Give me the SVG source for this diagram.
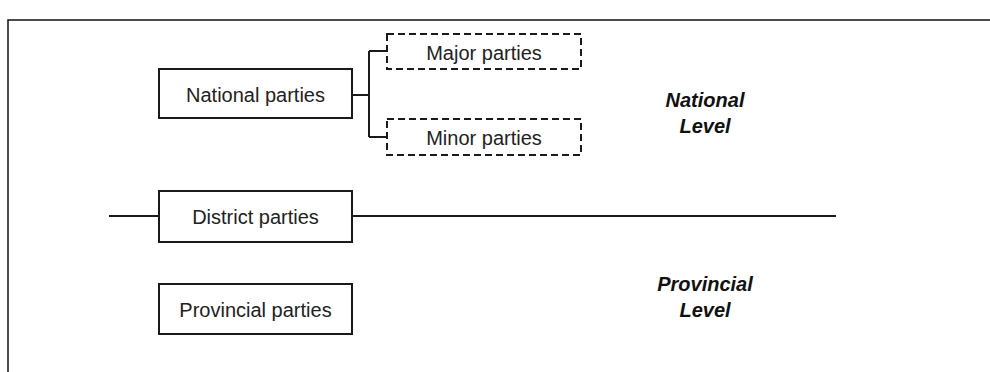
<svg xmlns="http://www.w3.org/2000/svg" width="990" height="372" viewBox="0 0 990 372">
  <style>
    .box { fill: #fff; stroke: #1a1a1a; stroke-width: 2; }
    .dash { fill: #fff; stroke: #1a1a1a; stroke-width: 2; stroke-dasharray: 7 4; }
    .wire { fill: none; stroke: #1a1a1a; stroke-width: 2; }
    .frame { fill: none; stroke: #111; stroke-width: 1.5; }
    .lbl { font-family: "Liberation Sans", Arial, sans-serif; font-size: 20px; fill: #222; text-anchor: middle; }
    .lvl { font-family: "Liberation Sans", Arial, sans-serif; font-size: 20px; font-weight: bold; font-style: italic; fill: #111; text-anchor: middle; }
  </style>

  <rect width="990" height="372" fill="#fff"/>
  <!-- page frame -->
  <path class="frame" d="M8,372 V20 H990"/>

  <!-- connectors -->
  <g id="connectors">
    <path class="wire" d="M352,95 H369 M369,51 V137 M369,51 H387 M369,137 H387"/>
    <path class="wire" d="M109,216 H159 M352,216 H836"/>
  </g>

  <g id="national">
    <rect class="box" x="159" y="69" width="193" height="49"/>
    <text class="lbl" x="255.5" y="102">National parties</text>
  </g>

  <g id="major">
    <rect class="dash" x="387" y="34" width="194" height="35"/>
    <text class="lbl" x="484" y="60">Major parties</text>
  </g>

  <g id="minor">
    <rect class="dash" x="387" y="119" width="194" height="36"/>
    <text class="lbl" x="484" y="145">Minor parties</text>
  </g>

  <g id="district">
    <rect class="box" x="159" y="191" width="193" height="51"/>
    <text class="lbl" x="255.5" y="224">District parties</text>
  </g>

  <g id="provincial">
    <rect class="box" x="159" y="284" width="193" height="50"/>
    <text class="lbl" x="255.5" y="317">Provincial parties</text>
  </g>

  <g id="national-level">
    <text class="lvl" x="705" y="107">National</text>
    <text class="lvl" x="705" y="133">Level</text>
  </g>

  <g id="provincial-level">
    <text class="lvl" x="705" y="291">Provincial</text>
    <text class="lvl" x="705" y="317">Level</text>
  </g>
</svg>
